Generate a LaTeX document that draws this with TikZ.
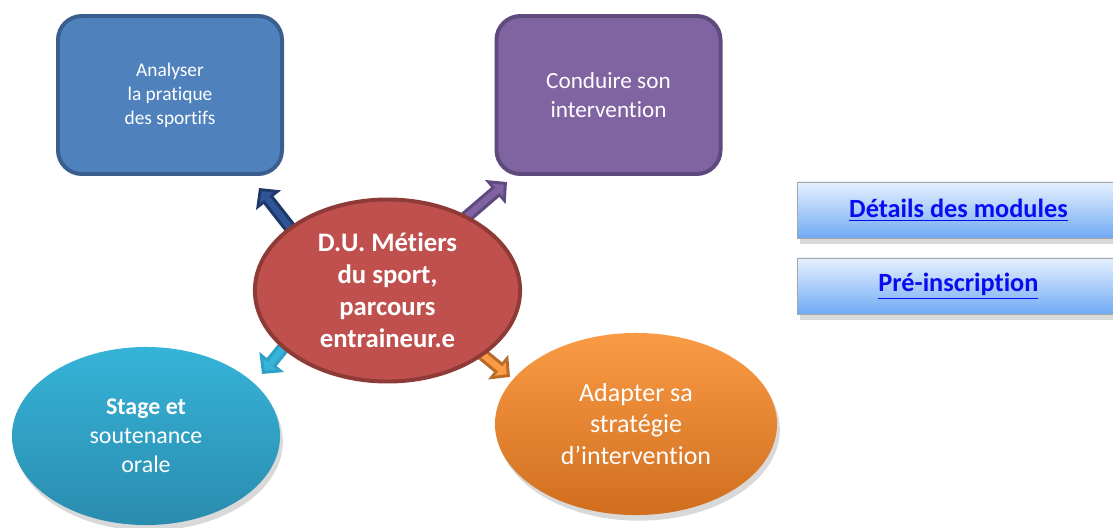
\documentclass[tikz,border=0pt]{standalone}
\usepackage{fontspec}
\setmainfont{Carlito}[Ligatures=NoCommon]
\usepackage{tikz}
\usetikzlibrary{shapes.geometric, shadows, arrows.meta}
\pgfdeclarelayer{back}
\pgfsetlayers{back,main}

\definecolor{bleuA}{HTML}{4F81BD}
\definecolor{bleuB}{HTML}{3A5F8E}
\definecolor{violA}{HTML}{8064A2}
\definecolor{violB}{HTML}{5E4A7C}
\definecolor{rougeA}{HTML}{C0504D}
\definecolor{rougeB}{HTML}{8E3A37}
\definecolor{cyanA}{HTML}{36B3D8}
\definecolor{cyanB}{HTML}{2A8CAE}
\definecolor{orangeA}{HTML}{FA9B45}
\definecolor{orangeB}{HTML}{D06E1E}
\definecolor{lien}{HTML}{0B0BEF}

\tikzset{
  carre/.style={draw, rounded corners=17pt, line width=2.8pt, minimum width=5.6cm, minimum height=3.95cm, align=center, text=white, inner sep=0pt},
  ovale/.style={ellipse, inner sep=0pt, align=center, text=white},
  ombre/.style={drop shadow={opacity=0.3, shadow xshift=2pt, shadow yshift=-4pt}},
  bouton/.style={draw=gray!70, line width=0.6pt, top color={rgb,255:red,230;green,241;blue,255}, bottom color={rgb,255:red,112;green,170;blue,244}, minimum width=8.05cm, minimum height=1.4cm, anchor=west, text=lien, font=\fontsize{18.7}{22}\selectfont\bfseries, ombre}
}

\newcommand{\fleche}[4]{
  \draw[#1, line width=9pt, -{Triangle[width=22pt,length=11pt]}, shorten <=-12pt] (#3) -- (#4);
  \draw[#2, line width=4.5pt, -{Triangle[width=12pt,length=6pt]}, shorten <=-12pt, shorten >=3pt] (#3) -- (#4);
}

\begin{document}
\begin{tikzpicture}[x=0.025cm, y=-0.025cm]
\useasboundingbox (0,0) rectangle (1113,527);
\clip (0,0) rectangle (1113,527);

\node[carre, fill=bleuA, draw=bleuB, font=\fontsize{13.8}{17}\selectfont] (analyser) at (170,95) {Analyser\\la pratique\\des sportifs};
\node[carre, fill=violA, draw=violB, font=\fontsize{16.5}{20}\selectfont] (conduire) at (608.5,95) {Conduire son\\intervention};

\node[ovale, ombre, top color=cyanA, bottom color=cyanB, minimum width=6.7cm, minimum height=4.45cm, font=\fontsize{17}{20.5}\selectfont] (stage) at (146,436) {\textbf{Stage et}\\soutenance\\orale};
\node[ovale, ombre, top color=orangeA, bottom color=orangeB, minimum width=7.05cm, minimum height=4.55cm, font=\fontsize{18.5}{22.7}\selectfont] (adapter) at (636,424) {Adapter sa\\stratégie\\d’intervention};

\node[ovale, draw=rougeB, line width=2.8pt, fill=rougeA, minimum width=6.63cm, minimum height=4.55cm, font=\fontsize{19}{22.8}\selectfont\bfseries] (du) at (387.5,290.5) {D.U. Métiers\\du sport,\\parcours\\entraineur.e};

\coordinate (pointeA) at (259,188);
\coordinate (pointeB) at (507,182);
\coordinate (pointeC) at (262,374);
\coordinate (pointeD) at (510,377);

\begin{pgfonlayer}{back}
\fleche{color={rgb,255:red,31;green,56;blue,106}}{color={rgb,255:red,47;green,85;blue,151}}{du.147}{pointeA}
\fleche{violB}{violA}{du.43}{pointeB}
\fleche{color={rgb,255:red,46;green,160;blue,198}}{cyanA}{du.209}{pointeC}
\fleche{color={rgb,255:red,184;green,106;blue,40}}{orangeA}{du.326}{pointeD}
\end{pgfonlayer}

\node[bouton] (details) at (797,210) {\underline{Détails des modules}};
\node[bouton] (inscription) at (797,286) {\underline{Pré-inscription}};
\end{tikzpicture}
\end{document}
